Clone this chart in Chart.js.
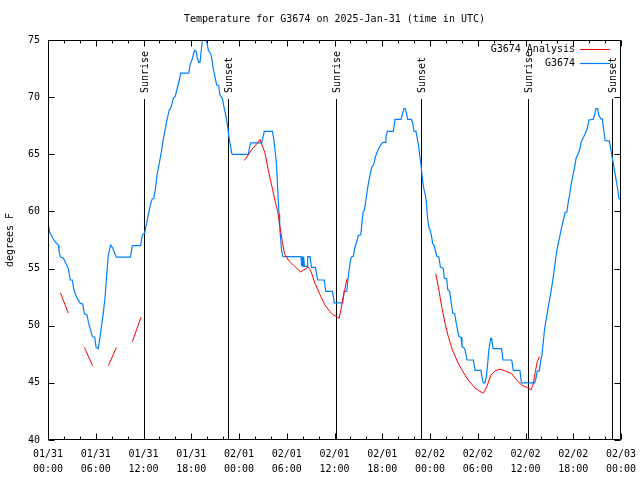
<!DOCTYPE html>
<html><head><meta charset="utf-8">
<script src="https://cdn.jsdelivr.net/npm/chart.js@4/dist/chart.umd.min.js"></script>
<style>html,body{margin:0;padding:0;background:#fff}#wrap{width:640px;height:480px}</style>
</head><body><div id="wrap"><canvas id="c" width="640" height="480"></canvas></div>
<script>
// ---- data (hours since 2025-01-31 00:00 UTC, degrees F) ----
const obsHours = [0.0,0.2,0.46,0.88,1.3,1.38,1.55,1.93,2.26,2.55,2.8,3.05,3.27,3.6,4.06,4.36,4.57,4.9,5.11,5.4,5.57,5.87,6.03,6.32,6.45,6.66,6.95,7.16,7.37,7.58,7.87,8.13,8.59,10.35,10.6,11.64,11.77,11.9,12.15,12.3,12.6,12.9,13.1,13.3,13.5,13.7,13.98,14.24,14.5,14.7,14.9,15.25,15.4,15.6,15.75,16.0,16.25,16.5,16.67,17.68,17.84,18.0,18.18,18.4,18.6,18.77,18.93,19.1,19.26,19.4,19.7,19.94,20.15,20.45,20.57,20.77,20.98,21.2,21.45,21.6,21.9,22.1,22.37,22.58,22.7,22.87,23.08,23.2,25.17,25.34,25.46,26.85,26.98,27.18,28.2,28.36,28.52,28.69,28.81,28.94,29.03,29.11,29.24,29.36,29.53,31.79,31.88,31.96,32.05,32.12,32.22,32.55,32.63,32.93,33.1,33.6,33.8,33.9,34.72,34.9,35.73,35.9,35.94,37.03,37.2,37.53,37.66,37.78,37.95,38.1,38.37,38.54,38.8,39.0,39.3,39.42,39.6,39.75,39.92,40.13,40.3,40.5,40.7,40.93,41.09,41.3,41.55,41.8,42.06,42.35,42.47,42.64,43.39,43.6,44.36,44.57,44.73,44.9,45.07,45.2,45.65,45.83,46.0,46.24,46.4,46.58,46.75,46.9,47.08,47.25,47.46,47.58,47.67,47.84,48.0,48.17,48.34,48.55,48.84,49.13,49.3,49.67,49.8,50.1,50.23,50.48,50.64,50.86,51.1,51.3,51.47,51.65,51.9,52.02,52.23,52.4,52.65,53.45,53.66,54.4,54.58,54.7,54.91,55.08,55.25,55.4,55.63,55.75,55.92,57.0,57.17,58.27,58.47,59.3,59.48,61.15,61.32,61.48,61.74,61.9,62.07,62.24,62.41,62.66,62.9,63.17,63.37,63.58,63.75,63.92,64.09,64.3,64.5,64.76,64.97,65.2,65.38,65.6,65.76,65.97,66.18,66.35,66.6,66.85,67.0,67.26,67.5,67.77,67.98,68.49,68.7,68.86,69.07,69.2,69.45,69.65,69.79,70.0,70.54,70.7,70.87,71.04,71.25,71.42,71.6,71.72,72.0];
const obsTemps = [59.1,58.2,57.85,57.35,57.05,56.6,56.0,55.9,55.45,55.0,54.0,54.0,53.1,52.5,51.95,51.9,51.05,50.95,50.2,49.5,49.05,49.0,48.15,48.0,48.6,49.6,51.1,52.4,54.4,56.2,57.05,56.8,56.0,56.0,57.0,57.0,57.65,58.0,58.1,58.65,59.7,60.7,61.1,61.15,62.0,63.2,64.2,65.2,66.4,67.1,67.85,68.9,69.0,69.45,69.9,70.1,70.8,71.5,72.1,72.1,72.8,73.1,73.45,74.1,74.05,73.4,73.05,73.05,74.1,75.0,75.15,74.85,74.1,73.8,73.4,72.5,71.8,71.05,71.0,70.2,69.9,69.2,68.3,67.4,66.7,66.0,65.1,65.0,65.0,65.65,66.0,66.0,66.4,67.0,67.0,66.4,65.4,64.35,62.75,60.85,59.8,58.65,57.5,56.5,56.05,56.05,55.2,56.05,55.2,56.05,55.2,55.2,56.05,56.05,55.1,55.1,54.3,54.0,54.0,53.0,53.0,52.4,52.0,52.0,53.0,53.0,53.85,54.6,55.45,56.0,56.1,56.8,57.35,57.9,57.95,58.8,60.0,60.1,60.85,61.9,62.6,63.3,63.9,64.1,64.65,65.1,65.5,65.8,66.05,66.05,66.55,67.0,67.0,68.05,68.05,68.6,69.0,69.0,68.5,68.05,68.05,67.7,67.0,67.0,66.4,65.65,64.7,63.9,62.6,61.9,61.3,60.55,59.55,58.7,58.4,57.9,57.2,56.95,56.1,56.0,55.15,55.0,54.15,54.1,53.15,53.0,52.1,51.1,51.05,50.2,49.6,49.05,49.0,48.15,48.1,47.9,47.0,47.0,46.1,46.1,45.3,45.0,45.0,45.55,46.7,47.9,48.9,48.9,48.0,48.0,47.0,47.0,46.1,46.1,45.0,45.0,45.4,46.05,46.05,46.9,47.45,48.6,49.8,50.8,51.8,52.85,53.7,54.75,55.6,56.5,57.1,57.8,58.5,59.25,59.9,59.95,60.85,61.7,62.45,63.2,63.9,64.65,65.0,65.5,66.1,66.45,66.8,67.3,68.0,68.05,68.5,69.0,69.0,68.45,68.1,68.1,67.3,66.2,66.15,65.5,64.8,64.2,63.3,62.6,61.9,61.15,61.0];

const anaHours = [1.55,2.55,3.5,4.57,5.6,6.5,7.58,8.59,9.5,10.6,11.69,18.0,24.67,25.6,26.1,26.64,27.27,27.68,28.1,28.5,28.86,29.15,29.45,29.7,30.2,30.83,31.45,31.75,32.3,32.7,33.05,33.55,34.18,34.8,35.4,35.85,36.27,36.6,36.8,37.03,37.28,37.53,37.66,42.0,48.72,49.05,49.47,49.9,50.3,50.8,51.36,51.98,52.8,53.66,54.29,54.7,55.13,55.67,56.17,56.8,57.43,58.26,58.9,59.52,60.15,60.73,60.98,61.24,61.48,61.74];
const anaTemps = [52.9,51.1,null,48.1,46.5,null,46.5,48.1,null,48.6,50.75,null,64.45,65.4,65.8,66.3,65.1,63.6,62.3,61.0,60.0,58.65,57.35,56.35,55.75,55.3,54.9,54.7,54.95,55.15,54.75,53.7,52.7,51.8,51.25,50.95,50.8,50.65,51.4,52.25,53.1,54.0,54.15,null,54.55,53.4,51.65,50.2,49.05,47.9,47.0,46.15,45.25,44.55,44.25,44.1,44.65,45.7,46.05,46.2,46.05,45.8,45.25,44.8,44.6,44.4,44.95,46.0,46.85,47.3];

const tickHours = [0,6,12,18,24,30,36,42,48,54,60,66,72];
const tickLabels = [['01/31','00:00'],['01/31','06:00'],['01/31','12:00'],['01/31','18:00'],['02/01','00:00'],['02/01','06:00'],['02/01','12:00'],['02/01','18:00'],['02/02','00:00'],['02/02','06:00'],['02/02','12:00'],['02/02','18:00'],['02/03','00:00']];
const yTickValues = [40,45,50,55,60,65,70,75];

const sunHours = [12.12,22.66,36.23,46.83,60.36,70.9];
const sunLabels = ['Sunrise','Sunset','Sunrise','Sunset','Sunrise','Sunset'];

const titleText = 'Temperature for G3674 on 2025-Jan-31 (time in UTC)';
const FONT = '"DejaVu Sans Mono", "Liberation Mono", monospace';

const toPts = (xs, ys) => xs.map((x, i) => ({x: x, y: ys[i]}));

const decor = {
  id: 'decor',
  beforeDatasetsDraw(chart) {
    const ctx = chart.ctx, a = chart.chartArea, xs = chart.scales.x;
    ctx.save();
    ctx.strokeStyle = '#000'; ctx.lineWidth = 1;
    ctx.fillStyle = '#000';
    ctx.font = '10px ' + FONT;
    sunHours.forEach((h, i) => {
      const px = Math.round(xs.getPixelForValue(h)) + 0.5;
      ctx.beginPath(); ctx.moveTo(px, 99); ctx.lineTo(px, a.bottom); ctx.stroke();
      ctx.save();
      ctx.translate(px + 1, 93);
      ctx.rotate(-Math.PI / 2);
      ctx.textAlign = 'left'; ctx.textBaseline = 'middle';
      ctx.fillText(sunLabels[i], 0, 0);
      ctx.restore();
    });
    ctx.restore();
  },
  afterDraw(chart) {
    const ctx = chart.ctx, a = chart.chartArea, xs = chart.scales.x, ys = chart.scales.y;
    ctx.save();
    ctx.strokeStyle = '#000'; ctx.lineWidth = 1;
    const L = Math.round(a.left) + 0.5, R = Math.round(a.right) - 0.5, T = Math.round(a.top) + 0.5, B = Math.round(a.bottom) - 0.5;
    ctx.beginPath();
    ctx.rect(L, T, R - L, B - T);
    for (let h = 0; h <= 72; h += 2) {
      const px = Math.round(xs.getPixelForValue(h)) + 0.5;
      const len = (h % 6 === 0) ? 6 : 3;
      ctx.moveTo(px, B); ctx.lineTo(px, B - len);
      ctx.moveTo(px, T); ctx.lineTo(px, T + len);
    }
    yTickValues.forEach(v => {
      const py = Math.round(ys.getPixelForValue(v)) + 0.5;
      ctx.moveTo(L, py); ctx.lineTo(L + 6, py);
      ctx.moveTo(R, py); ctx.lineTo(R - 6, py);
    });
    ctx.stroke();
    ctx.fillStyle = '#000';
    ctx.font = '10px ' + FONT;
    ctx.textAlign = 'center'; ctx.textBaseline = 'middle';
    ctx.fillText(titleText, (a.left + a.right) / 2, 19);
    ctx.textAlign = 'right';
    chart.data.datasets.forEach((ds, i) => {
      const y = 49 + i * 14;
      ctx.fillStyle = '#000';
      ctx.fillText(ds.label, 575, y);
      ctx.strokeStyle = ds.borderColor; ctx.lineWidth = ds.borderWidth;
      ctx.beginPath(); ctx.moveTo(580, Math.round(y) + 0.5); ctx.lineTo(610, Math.round(y) + 0.5); ctx.stroke();
    });
    ctx.restore();
  }
};

new Chart(document.getElementById('c'), {
  type: 'line',
  data: {
    datasets: [
      {label: 'G3674 Analysis', data: toPts(anaHours, anaTemps), borderColor: 'rgb(255,0,0)', borderWidth: 1, pointRadius: 0, tension: 0, spanGaps: false, fill: false},
      {label: 'G3674', data: toPts(obsHours, obsTemps), borderColor: 'rgb(0,128,255)', borderWidth: 1.2, pointRadius: 0, tension: 0, fill: false}
    ]
  },
  options: {
    responsive: false, animation: false, devicePixelRatio: 1,
    layout: {padding: {top: 40, right: 19, left: 0, bottom: 0}},
    plugins: {legend: {display: false}, title: {display: false}, tooltip: {enabled: false}},
    scales: {
      x: {
        type: 'linear', min: 0, max: 72,
        afterBuildTicks: s => { s.ticks = tickHours.map(v => ({value: v})); },
        afterFit: s => { s.height = 40; s.paddingLeft = 0; s.paddingRight = 0; },
        grid: {display: false, drawTicks: false},
        border: {display: false},
        ticks: {
          autoSkip: false, maxRotation: 0, minRotation: 0, padding: 7, color: '#000',
          font: {family: FONT, size: 10, lineHeight: 1.5},
          callback: v => { const i = tickHours.indexOf(v); return i >= 0 ? tickLabels[i] : ''; }
        }
      },
      y: {
        min: 40, max: 75,
        afterBuildTicks: s => { s.ticks = yTickValues.map(v => ({value: v})); },
        afterFit: s => { s.width = 48; s.paddingTop = 0; s.paddingBottom = 0; },
        grid: {display: false, drawTicks: false},
        border: {display: false},
        title: {display: true, text: 'degrees F', color: '#000', font: {family: FONT, size: 10}, padding: {top: 4, bottom: 0}},
        ticks: {padding: 8, color: '#000', font: {family: FONT, size: 10}, callback: v => String(v)}
      }
    }
  },
  plugins: [decor]
});
</script></body></html>
